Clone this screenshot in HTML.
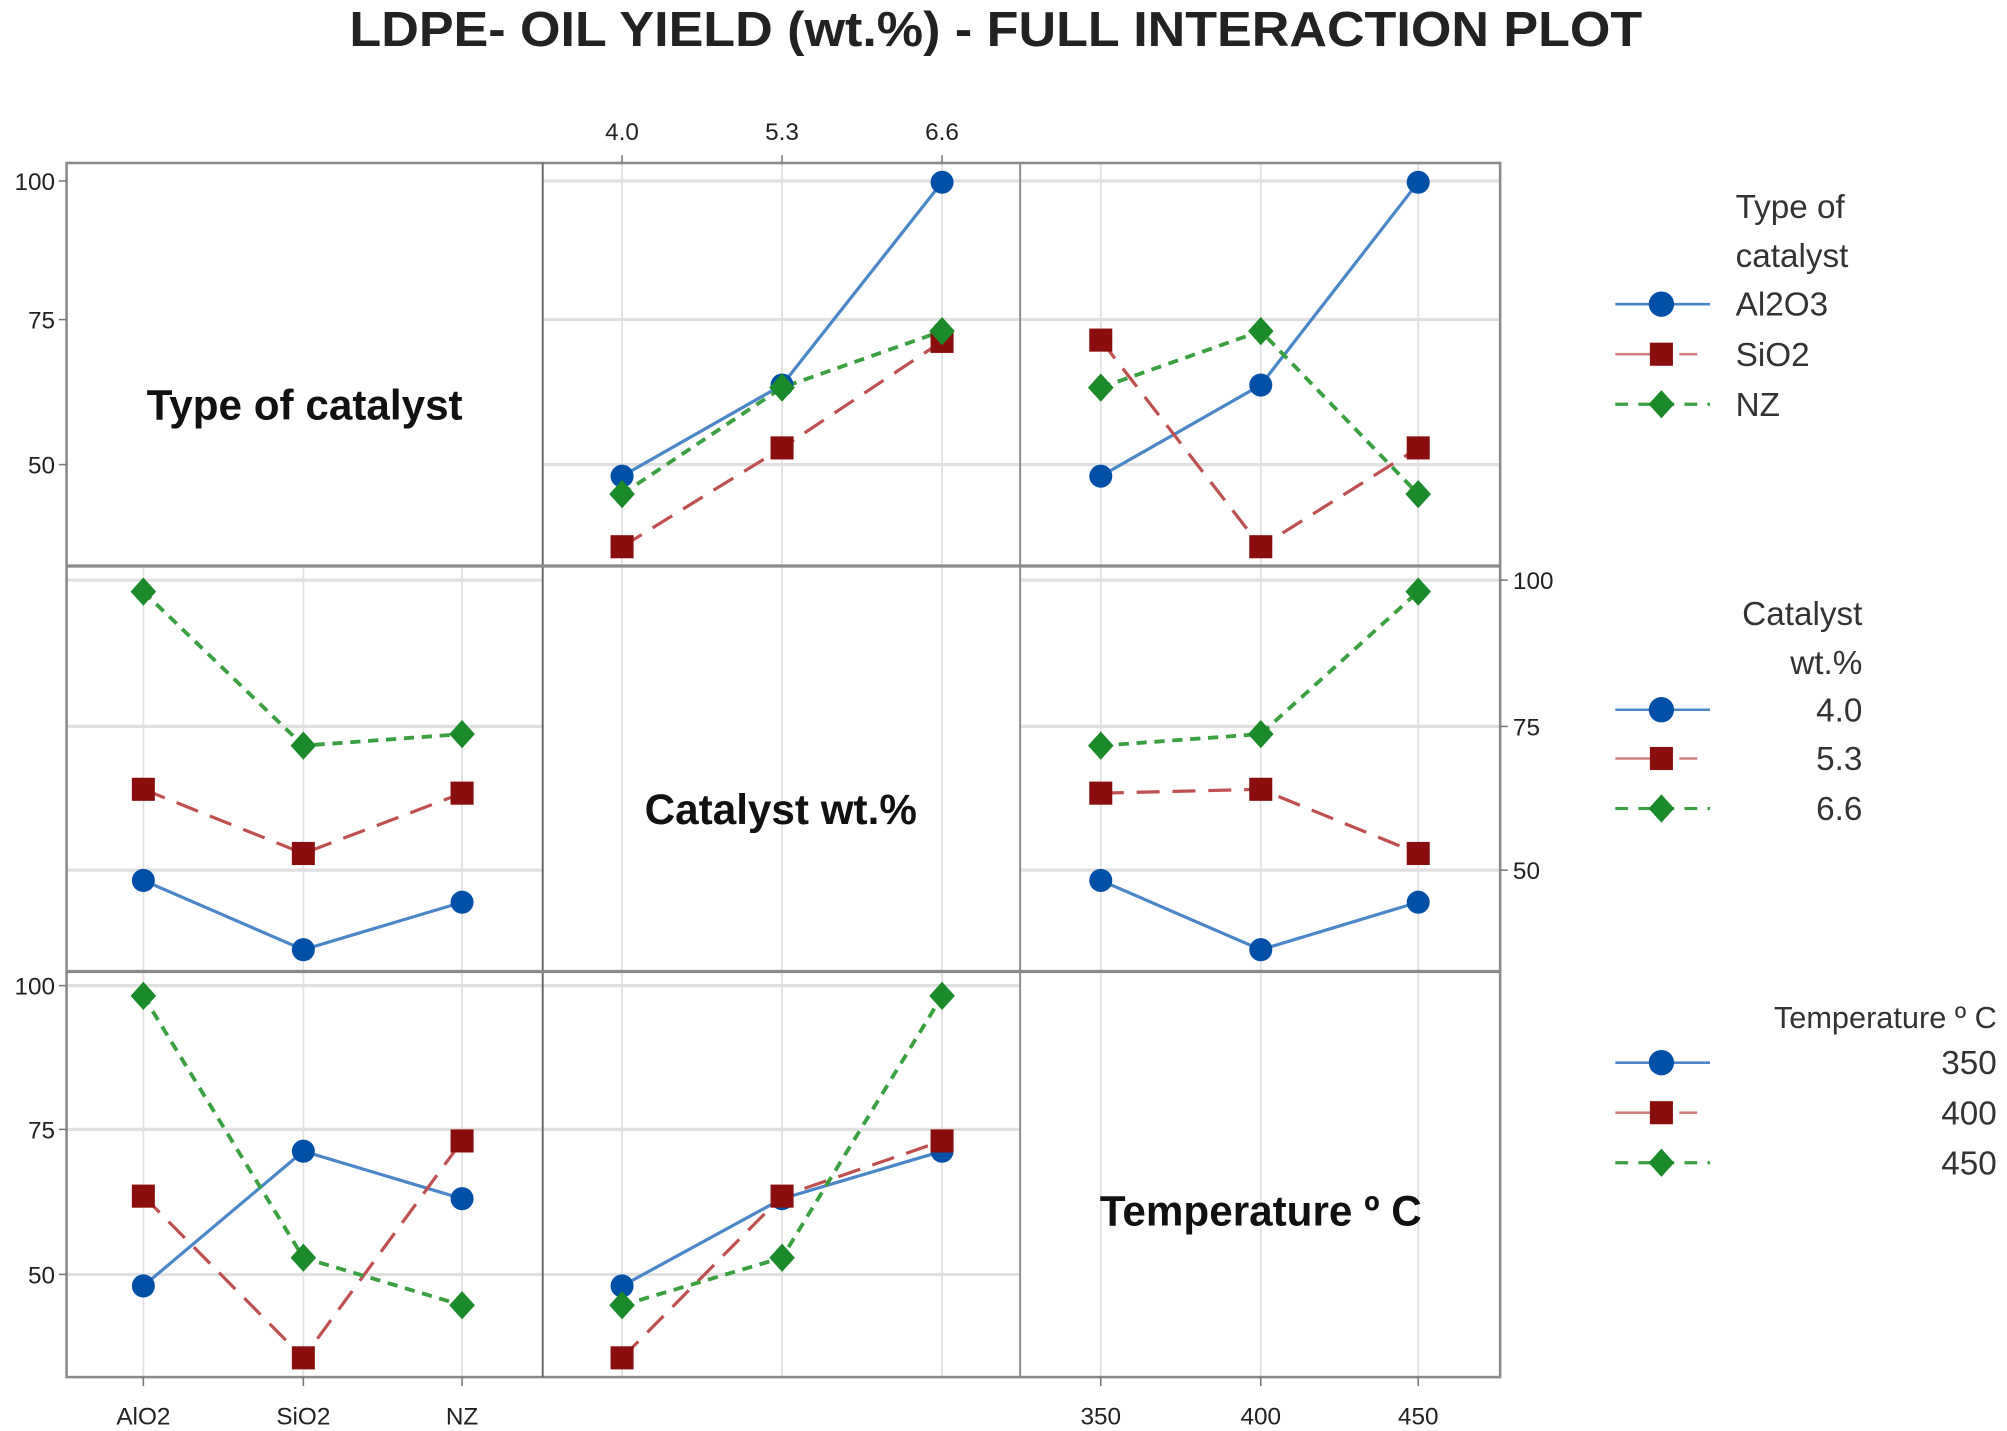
<!DOCTYPE html>
<html><head><meta charset="utf-8"><style>html,body{margin:0;padding:0;background:#fff}svg{display:block}</style></head>
<body>
<svg width="2007" height="1431" viewBox="0 0 1568 1115" preserveAspectRatio="none" xmlns="http://www.w3.org/2000/svg" font-family="'Liberation Sans', sans-serif">
<defs>
<circle id="c" r="9" fill="#0050a8"/>
<rect id="s" x="-9" y="-9" width="18" height="18" fill="#8b0e0e"/>
<path id="d" d="M0,-11 L10,0 L0,11 L-10,0 Z" fill="#1a8a2a"/>
</defs>
<text x="778" y="36" text-anchor="middle" font-size="38" font-weight="bold" fill="#222" textLength="1010" lengthAdjust="spacingAndGlyphs">LDPE- OIL YIELD (wt.%) - FULL INTERACTION PLOT</text>

<!-- grid lines -->
<g stroke="#e2e2e2" stroke-width="1.5">
<!-- vertical -->
<line x1="486" y1="127" x2="486" y2="1073"/><line x1="611" y1="127" x2="611" y2="1073"/><line x1="736" y1="127" x2="736" y2="1073"/>
<line x1="860" y1="127" x2="860" y2="1073"/><line x1="985" y1="127" x2="985" y2="1073"/><line x1="1108" y1="127" x2="1108" y2="1073"/>
<line x1="112" y1="441" x2="112" y2="1073"/><line x1="237" y1="441" x2="237" y2="1073"/><line x1="361" y1="441" x2="361" y2="1073"/>
</g>
<g stroke="#e0e0e0" stroke-width="2.5">
<line x1="424" y1="141" x2="1172" y2="141"/><line x1="424" y1="249" x2="1172" y2="249"/><line x1="424" y1="362" x2="1172" y2="362"/>
<line x1="52" y1="452" x2="424" y2="452"/><line x1="52" y1="566" x2="424" y2="566"/><line x1="52" y1="678" x2="424" y2="678"/>
<line x1="797" y1="452" x2="1172" y2="452"/><line x1="797" y1="566" x2="1172" y2="566"/><line x1="797" y1="678" x2="1172" y2="678"/>
<line x1="52" y1="768" x2="797" y2="768"/><line x1="52" y1="880" x2="797" y2="880"/><line x1="52" y1="993" x2="797" y2="993"/>
</g>
<!-- panel borders -->
<g stroke="#8a8a8a" fill="none">
<rect x="52" y="127" width="1120" height="946" stroke-width="2"/>
<line x1="424" y1="127" x2="424" y2="1073" stroke="#666" stroke-width="1.5"/>
<line x1="797" y1="127" x2="797" y2="1073" stroke-width="1.5"/>
<line x1="52" y1="441" x2="1172" y2="441" stroke-width="2.5"/>
<line x1="52" y1="757" x2="1172" y2="757" stroke-width="2.5"/>
</g>
<!-- ticks -->
<g stroke="#777" stroke-width="1.2">
<line x1="46" y1="141" x2="52" y2="141"/><line x1="46" y1="249" x2="52" y2="249"/><line x1="46" y1="362" x2="52" y2="362"/>
<line x1="46" y1="768" x2="52" y2="768"/><line x1="46" y1="880" x2="52" y2="880"/><line x1="46" y1="993" x2="52" y2="993"/>
<line x1="1172" y1="452" x2="1178" y2="452"/><line x1="1172" y1="566" x2="1178" y2="566"/><line x1="1172" y1="678" x2="1178" y2="678"/>
<line x1="486" y1="121" x2="486" y2="127"/><line x1="611" y1="121" x2="611" y2="127"/><line x1="736" y1="121" x2="736" y2="127"/>
<line x1="112" y1="1073" x2="112" y2="1080"/><line x1="237" y1="1073" x2="237" y2="1080"/><line x1="361" y1="1073" x2="361" y2="1080"/>
<line x1="860" y1="1073" x2="860" y2="1080"/><line x1="985" y1="1073" x2="985" y2="1080"/><line x1="1108" y1="1073" x2="1108" y2="1080"/>
</g>
<g font-size="19" fill="#222">
<text x="43" y="148" text-anchor="end">100</text><text x="43" y="256" text-anchor="end">75</text><text x="43" y="369" text-anchor="end">50</text>
<text x="43" y="775" text-anchor="end">100</text><text x="43" y="887" text-anchor="end">75</text><text x="43" y="1000" text-anchor="end">50</text>
<text x="1182" y="459">100</text><text x="1182" y="573">75</text><text x="1182" y="685">50</text>
<text x="486" y="109" text-anchor="middle">4.0</text><text x="611" y="109" text-anchor="middle">5.3</text><text x="736" y="109" text-anchor="middle">6.6</text>
<text x="112" y="1110" text-anchor="middle">AlO2</text><text x="237" y="1110" text-anchor="middle">SiO2</text><text x="361" y="1110" text-anchor="middle">NZ</text>
<text x="860" y="1110" text-anchor="middle">350</text><text x="985" y="1110" text-anchor="middle">400</text><text x="1108" y="1110" text-anchor="middle">450</text>
</g>
<g font-size="33" font-weight="bold" fill="#111" text-anchor="middle">
<text x="238" y="327">Type of catalyst</text>
<text x="610" y="642">Catalyst  wt.%</text>
<text x="985" y="955">Temperature º C</text>
</g>

<!-- series styles -->
<g fill="none">
<!-- row1 panel2 -->
<polyline points="486,371 611,300 736,142" stroke="#4a86c8" stroke-width="2.5"/>
<polyline points="486,426 611,349 736,266" stroke="#c05050" stroke-width="2.5" stroke-dasharray="18,10"/>
<polyline points="486,385 611,302 736,258" stroke="#3aa040" stroke-width="3" stroke-dasharray="8,6"/>
<!-- row1 panel3 -->
<polyline points="860,371 985,300 1108,142" stroke="#4a86c8" stroke-width="2.5"/>
<polyline points="860,265 985,426 1108,349" stroke="#c05050" stroke-width="2.5" stroke-dasharray="18,10"/>
<polyline points="860,302 985,258 1108,385" stroke="#3aa040" stroke-width="3" stroke-dasharray="8,6"/>
<!-- row2 panel1 -->
<polyline points="112,686 237,740 361,703" stroke="#4a86c8" stroke-width="2.5"/>
<polyline points="112,615 237,665 361,618" stroke="#c05050" stroke-width="2.5" stroke-dasharray="18,10"/>
<polyline points="112,461 237,581 361,572" stroke="#3aa040" stroke-width="3" stroke-dasharray="8,6"/>
<!-- row2 panel3 -->
<polyline points="860,686 985,740 1108,703" stroke="#4a86c8" stroke-width="2.5"/>
<polyline points="860,618 985,615 1108,665" stroke="#c05050" stroke-width="2.5" stroke-dasharray="18,10"/>
<polyline points="860,581 985,572 1108,461" stroke="#3aa040" stroke-width="3" stroke-dasharray="8,6"/>
<!-- row3 panel1 -->
<polyline points="112,1002 237,897 361,934" stroke="#4a86c8" stroke-width="2.5"/>
<polyline points="112,932 237,1058 361,889" stroke="#c05050" stroke-width="2.5" stroke-dasharray="18,10"/>
<polyline points="112,776 237,980 361,1017" stroke="#3aa040" stroke-width="3" stroke-dasharray="8,6"/>
<!-- row3 panel2 -->
<polyline points="486,1002 611,934 736,897" stroke="#4a86c8" stroke-width="2.5"/>
<polyline points="486,1058 611,932 736,889" stroke="#c05050" stroke-width="2.5" stroke-dasharray="18,10"/>
<polyline points="486,1017 611,980 736,776" stroke="#3aa040" stroke-width="3" stroke-dasharray="8,6"/>
</g>
<!-- markers -->
<g>
<use href="#c" x="486" y="371"/><use href="#c" x="611" y="300"/><use href="#c" x="736" y="142"/>
<use href="#s" x="486" y="426"/><use href="#s" x="611" y="349"/><use href="#s" x="736" y="266"/>
<use href="#d" x="486" y="385"/><use href="#d" x="611" y="302"/><use href="#d" x="736" y="258"/>
<use href="#c" x="860" y="371"/><use href="#c" x="985" y="300"/><use href="#c" x="1108" y="142"/>
<use href="#s" x="860" y="265"/><use href="#s" x="985" y="426"/><use href="#s" x="1108" y="349"/>
<use href="#d" x="860" y="302"/><use href="#d" x="985" y="258"/><use href="#d" x="1108" y="385"/>
<use href="#c" x="112" y="686"/><use href="#c" x="237" y="740"/><use href="#c" x="361" y="703"/>
<use href="#s" x="112" y="615"/><use href="#s" x="237" y="665"/><use href="#s" x="361" y="618"/>
<use href="#d" x="112" y="461"/><use href="#d" x="237" y="581"/><use href="#d" x="361" y="572"/>
<use href="#c" x="860" y="686"/><use href="#c" x="985" y="740"/><use href="#c" x="1108" y="703"/>
<use href="#s" x="860" y="618"/><use href="#s" x="985" y="615"/><use href="#s" x="1108" y="665"/>
<use href="#d" x="860" y="581"/><use href="#d" x="985" y="572"/><use href="#d" x="1108" y="461"/>
<use href="#c" x="112" y="1002"/><use href="#c" x="237" y="897"/><use href="#c" x="361" y="934"/>
<use href="#s" x="112" y="932"/><use href="#s" x="237" y="1058"/><use href="#s" x="361" y="889"/>
<use href="#d" x="112" y="776"/><use href="#d" x="237" y="980"/><use href="#d" x="361" y="1017"/>
<use href="#c" x="486" y="1002"/><use href="#c" x="611" y="934"/><use href="#c" x="736" y="897"/>
<use href="#s" x="486" y="1058"/><use href="#s" x="611" y="932"/><use href="#s" x="736" y="889"/>
<use href="#d" x="486" y="1017"/><use href="#d" x="611" y="980"/><use href="#d" x="736" y="776"/>
</g>

<!-- legends -->
<g font-size="26" fill="#333">
<text x="1356" y="170">Type of</text><text x="1356" y="208">catalyst</text>
<text x="1356" y="246">Al2O3</text><text x="1356" y="285">SiO2</text><text x="1356" y="324">NZ</text>
<text x="1455" y="487" text-anchor="end">Catalyst</text><text x="1455" y="525" text-anchor="end">wt.%</text>
<text x="1455" y="562" text-anchor="end">4.0</text><text x="1455" y="600" text-anchor="end">5.3</text><text x="1455" y="639" text-anchor="end">6.6</text>
<text x="1560" y="801" text-anchor="end" font-size="24">Temperature º C</text>
<text x="1560" y="837" text-anchor="end">350</text><text x="1560" y="876" text-anchor="end">400</text><text x="1560" y="915" text-anchor="end">450</text>
</g>
<g fill="none">
<line x1="1262" y1="237" x2="1336" y2="237" stroke="#4a86c8" stroke-width="2"/>
<line x1="1262" y1="276" x2="1326" y2="276" stroke="#d08080" stroke-width="2" stroke-dasharray="28,22"/>
<line x1="1262" y1="315" x2="1336" y2="315" stroke="#3aa040" stroke-width="2.5" stroke-dasharray="10,8"/>
<line x1="1262" y1="553" x2="1336" y2="553" stroke="#4a86c8" stroke-width="2"/>
<line x1="1262" y1="591" x2="1326" y2="591" stroke="#d08080" stroke-width="2" stroke-dasharray="28,22"/>
<line x1="1262" y1="630" x2="1336" y2="630" stroke="#3aa040" stroke-width="2.5" stroke-dasharray="10,8"/>
<line x1="1262" y1="828" x2="1336" y2="828" stroke="#4a86c8" stroke-width="2"/>
<line x1="1262" y1="867" x2="1326" y2="867" stroke="#d08080" stroke-width="2" stroke-dasharray="28,22"/>
<line x1="1262" y1="906" x2="1336" y2="906" stroke="#3aa040" stroke-width="2.5" stroke-dasharray="10,8"/>
</g>
<use href="#c" x="1298" y="237" transform="translate(-129.8,-23.7) scale(1.1)"/>
<use href="#s" x="1298" y="276"/><use href="#d" x="1298" y="315"/>
<use href="#c" x="1298" y="553" transform="translate(-129.8,-55.3) scale(1.1)"/>
<use href="#s" x="1298" y="591"/><use href="#d" x="1298" y="630"/>
<use href="#c" x="1298" y="828" transform="translate(-129.8,-82.8) scale(1.1)"/>
<use href="#s" x="1298" y="867"/><use href="#d" x="1298" y="906"/>
</svg>
</body></html>
